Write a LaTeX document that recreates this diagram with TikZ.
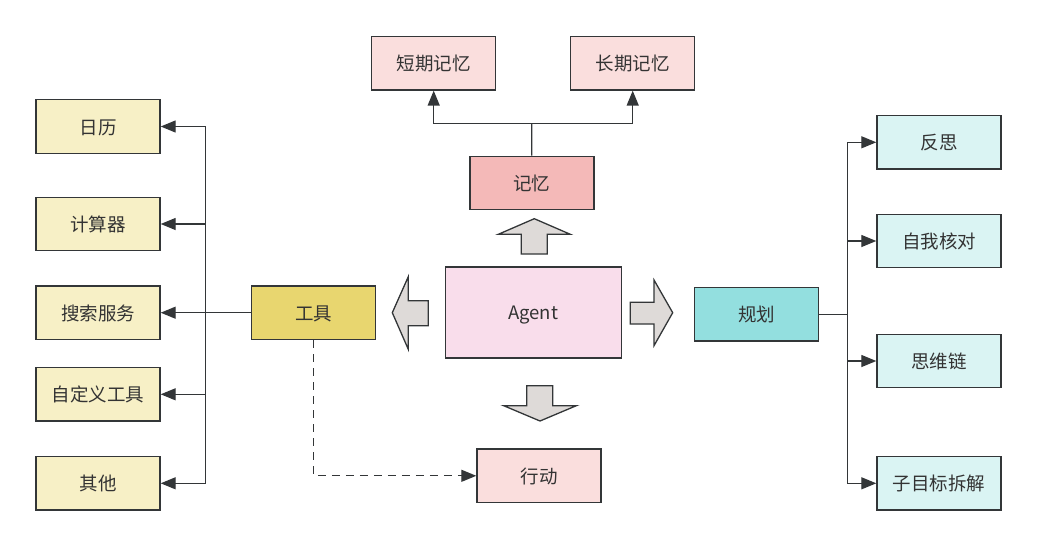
\documentclass[tikz,border=0pt]{standalone}
\usepackage{fontspec}
\setmainfont{Noto Sans CJK SC}
\usetikzlibrary{arrows.meta}
\definecolor{edge}{HTML}{333638}
\definecolor{txt}{HTML}{333333}
\definecolor{toolfill}{HTML}{F7F0C6}
\definecolor{toolmain}{HTML}{E8D66F}
\definecolor{planfill}{HTML}{DAF4F3}
\definecolor{planmain}{HTML}{93DFDF}
\definecolor{memfill}{HTML}{FADEDD}
\definecolor{memmain}{HTML}{F4B9B8}
\definecolor{agentfill}{HTML}{F9DDEB}
\definecolor{bigarrow}{HTML}{DEDAD8}
\begin{document}
\begin{tikzpicture}[x=1pt,y=-1pt,
  box/.style={draw=edge, line width=1.4pt, minimum width=124pt, minimum height=53.5pt,
    inner sep=0pt, font=\fontsize{18.5}{21}\selectfont, text=txt,
    text height=1.5em, text depth=0pt},
  conn/.style={draw=edge, line width=1.35pt},
  arr/.style={conn, -{Triangle[length=15pt,width=12pt]}},
  blk/.style={draw=edge, line width=1.3pt, fill=bigarrow, line join=miter}]
\useasboundingbox (0,0) rectangle (1038,546);
% tools
\node[box, fill=toolfill] (rili) at (98,126.5) {日历};
\node[box, fill=toolfill] (jsq) at (98,224) {计算器};
\node[box, fill=toolfill] (ssfw) at (98,312.7) {搜索服务};
\node[box, fill=toolfill] (zdy) at (98,394.3) {自定义工具};
\node[box, fill=toolfill] (qita) at (98,483.3) {其他};
\node[box, fill=toolmain] (gongju) at (313.5,312.7) {工具};
% memory
\node[box, fill=memfill] (short) at (433.7,63.2) {短期记忆};
\node[box, fill=memfill] (long) at (632.7,63.2) {长期记忆};
\node[box, fill=memmain] (jiyi) at (531.8,183) {记忆};
% agent
\node[box, fill=agentfill, minimum width=176pt, minimum height=91pt] (agent) at (533.2,312.3) {Agent};
% action
\node[box, fill=memfill] (xd) at (539,475.8) {行动};
% planning
\node[box, fill=planmain] (guihua) at (756.5,314.3) {规划};
\node[box, fill=planfill] (fansi) at (939,142.3) {反思};
\node[box, fill=planfill] (zwhd) at (939,241) {自我核对};
\node[box, fill=planfill] (swl) at (939,361) {思维链};
\node[box, fill=planfill] (zmb) at (939,483.3) {子目标拆解};
% tool connectors
\coordinate (tt) at (205.7,0);
\draw[conn] (tt |- rili.east) -- (tt |- qita.east);
\draw[conn] (gongju.west) -- (tt |- ssfw.east);
\foreach \n in {rili,jsq,ssfw,zdy,qita}{\draw[arr] (tt |- \n.east) -- (\n.east);}
\draw[arr, dash pattern=on 8pt off 6pt] (gongju.south) |- (xd.west);
% memory connectors
\coordinate (mj) at (531.7,123.3);
\draw[conn] (jiyi.north) -- (mj);
\draw[arr] (mj) -| (short.south);
\draw[arr] (mj) -| (long.south);
% planning connectors
\coordinate (pt) at (847.3,0);
\draw[conn] (pt |- fansi.west) -- (pt |- zmb.west);
\draw[conn] (guihua.east) -- (pt |- guihua.east);
\foreach \n in {fansi,zwhd,swl,zmb}{\draw[arr] (pt |- \n.west) -- (\n.west);}
% block arrows
\draw[blk] (521.3,254) -- (521.3,234.3) -- (498.3,234.3) -- (534.3,218.7) -- (570.3,234.3) -- (547.3,234.3) -- (547.3,254) -- cycle;
\draw[blk] (428.3,300.7) -- (408.3,300.7) -- (408.3,276.7) -- (392.3,312.7) -- (408.3,349.3) -- (408.3,325.7) -- (428.3,325.7) -- cycle;
\draw[blk] (630.3,302.3) -- (654,302.3) -- (654,280) -- (672.7,312.7) -- (654,345.7) -- (654,324) -- (630.3,324) -- cycle;
\draw[blk] (526.7,385.7) -- (552.7,385.7) -- (552.7,405.7) -- (576.3,405.7) -- (540,421) -- (503.7,405.7) -- (526.7,405.7) -- cycle;
\end{tikzpicture}
\end{document}
